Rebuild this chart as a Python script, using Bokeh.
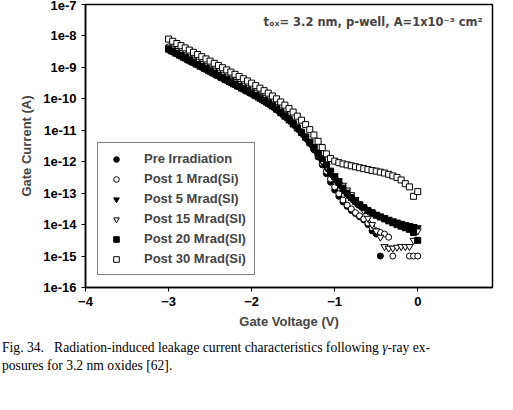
from bokeh.plotting import figure
from bokeh.models import Label, Div, Legend, LegendItem, FixedTicker
from bokeh.layouts import column
from bokeh.embed import file_html
from bokeh.resources import INLINE

nan = float("nan")

# gate voltage (V), 0.05 V steps from -3 to 0
v = [round(-3 + 0.05 * i, 2) for i in range(61)]

# log10 of gate current (A)
pre = [-8.40, -8.47, -8.54, -8.61, -8.68, -8.75, -8.82, -8.89, -8.96, -9.03,
       -9.10, -9.17, -9.24, -9.31, -9.38, -9.45, -9.52, -9.59, -9.66, -9.73,
       -9.80, -9.88, -9.96, -10.04, -10.12, -10.22, -10.32, -10.43, -10.55, -10.67,
       -10.80, -10.94, -11.09, -11.25, -11.42, -11.62, -11.85, -12.10, -12.38, -12.65,
       -12.90, -13.10, -13.28, -13.42, -13.55, -13.65, -13.75, -13.85, -14.00, -14.20,
       -14.30, -15.00, nan, nan, nan, nan, nan, nan, nan, nan, nan]
post1 = [-8.35, -8.42, -8.49, -8.56, -8.63, -8.70, -8.77, -8.84, -8.91, -8.98,
         -9.05, -9.12, -9.19, -9.26, -9.33, -9.40, -9.47, -9.54, -9.61, -9.68,
         -9.75, -9.83, -9.91, -9.99, -10.08, -10.17, -10.27, -10.38, -10.50, -10.62,
         -10.75, -10.89, -11.04, -11.20, -11.38, -11.58, -11.80, -12.05, -12.30, -12.55,
         -12.80, -13.02, -13.22, -13.38, -13.50, -13.62, -13.72, -13.82, -13.95, -14.10,
         -14.20, -14.25, -14.30, -14.40, -15.00, nan, nan, nan, -15.00, -15.00, -15.00]
post5 = [-8.45, -8.52, -8.59, -8.66, -8.73, -8.80, -8.87, -8.94, -9.01, -9.08,
         -9.15, -9.22, -9.29, -9.36, -9.43, -9.50, -9.57, -9.64, -9.71, -9.78,
         -9.85, -9.92, -10.00, -10.08, -10.16, -10.25, -10.35, -10.46, -10.57, -10.69,
         -10.82, -10.96, -11.10, -11.26, -11.42, -11.60, -11.80, -12.00, -12.20, -12.38,
         -12.55, -12.72, -12.90, -13.05, -13.18, -13.30, -13.40, -13.48, -13.56, -13.62,
         -13.68, -13.73, -13.78, -13.83, -13.88, -13.92, -13.96, -14.00, -14.03, -14.06, -14.10]
post15 = [-8.38, -8.45, -8.52, -8.59, -8.66, -8.73, -8.80, -8.87, -8.94, -9.01,
          -9.08, -9.15, -9.22, -9.29, -9.36, -9.43, -9.50, -9.57, -9.64, -9.71,
          -9.78, -9.86, -9.94, -10.02, -10.10, -10.19, -10.29, -10.40, -10.51, -10.63,
          -10.76, -10.90, -11.05, -11.20, -11.36, -11.55, -11.75, -11.98, -12.15, -12.30,
          -12.45, -12.60, -12.75, -12.90, -13.05, -13.20, -13.35, -13.55, -13.80, -14.00,
          -14.20, -14.40, -14.70, -14.75, -14.75, -14.72, -14.70, -14.70, -14.70, -14.50, -14.20]
post20 = [-8.42, -8.49, -8.56, -8.63, -8.70, -8.77, -8.84, -8.91, -8.98, -9.05,
          -9.12, -9.19, -9.26, -9.33, -9.40, -9.47, -9.54, -9.61, -9.68, -9.75,
          -9.82, -9.90, -9.98, -10.06, -10.14, -10.23, -10.33, -10.44, -10.55, -10.67,
          -10.80, -10.93, -11.07, -11.22, -11.38, -11.55, -11.72, -11.90, -12.10, -12.30,
          -12.48, -12.66, -12.84, -13.00, -13.14, -13.26, -13.37, -13.46, -13.55, -13.62,
          -13.70, -13.76, -13.82, -13.88, -13.94, -14.00, -14.05, -14.10, -14.15, -14.25, -14.50]
post30 = [-8.10, -8.17, -8.24, -8.31, -8.38, -8.45, -8.52, -8.59, -8.66, -8.73,
          -8.80, -8.87, -8.94, -9.01, -9.08, -9.15, -9.22, -9.29, -9.36, -9.43,
          -9.50, -9.58, -9.66, -9.74, -9.82, -9.91, -10.00, -10.10, -10.20, -10.31,
          -10.42, -10.55, -10.68, -10.82, -10.98, -11.15, -11.35, -11.55, -11.75, -11.90,
          -11.98, -12.03, -12.07, -12.10, -12.13, -12.16, -12.19, -12.22, -12.25, -12.28,
          -12.30, -12.33, -12.36, -12.40, -12.45, -12.50, -12.58, -12.70, -12.80, -13.10, -12.95]

y_ticks = list(range(-16, -6))
y_labels = {t: "1e%d" % t for t in y_ticks}

p = figure(width=505, height=335, x_range=(-4, 0.9), y_range=(-16, -7),
           output_backend="svg", toolbar_location=None,
           min_border_left=85, min_border_right=13, min_border_top=4, min_border_bottom=48,
           x_axis_label="Gate Voltage (V)", y_axis_label="Gate Current (A)")
p.grid.visible = False
p.outline_line_color = "black"
p.outline_line_width = 1.5
p.yaxis.ticker = FixedTicker(ticks=y_ticks)
p.yaxis.major_label_overrides = y_labels
p.xaxis.ticker = FixedTicker(ticks=[-4, -3, -2, -1, 0])
p.xaxis.minor_tick_line_color = None
p.yaxis.minor_tick_line_color = None
for ax in (p.xaxis, p.yaxis):
    ax.major_label_text_font = "Liberation Sans"
    ax.major_label_text_font_style = "bold"
    ax.major_label_text_font_size = "13px"
    ax.major_label_text_color = "black"
    ax.axis_label_text_font = "Liberation Sans"
    ax.axis_label_text_font_style = "bold"
    ax.axis_label_text_font_size = "13px"
    ax.axis_line_color = "black"
    ax.axis_line_width = 1.5
    ax.major_tick_line_color = "black"
    ax.major_tick_in = 0
    ax.major_tick_out = 4
p.yaxis.axis_label_standoff = 6

sz = 6
r1 = p.scatter(v, pre, marker="circle", size=sz, color="black")
r2 = p.scatter(v, post1, marker="circle", size=sz, line_color="black", fill_color="white")
r3 = p.scatter(v, post5, marker="inverted_triangle", size=sz + 1, color="black")
r4 = p.scatter(v, post15, marker="inverted_triangle", size=sz + 1, line_color="black", fill_color="white")
r5 = p.scatter(v, post20, marker="square", size=sz, color="black")
r6 = p.scatter(v, post30, marker="square", size=sz, line_color="black", fill_color="white")

legend = Legend(items=[
    LegendItem(label="Pre Irradiation", renderers=[r1]),
    LegendItem(label="Post 1 Mrad(Si)", renderers=[r2]),
    LegendItem(label="Post 5 Mrad(SI)", renderers=[r3]),
    LegendItem(label="Post 15 Mrad(SI)", renderers=[r4]),
    LegendItem(label="Post 20 Mrad(SI)", renderers=[r5]),
    LegendItem(label="Post 30 Mrad(Si)", renderers=[r6]),
], location=(12, 12))
legend.label_text_font = "Liberation Sans"
legend.label_text_font_style = "bold"
legend.label_text_font_size = "13px"
legend.border_line_color = "black"
legend.border_line_width = 1.5
legend.label_height = 14
legend.glyph_height = 14
legend.spacing = 5
legend.padding = 8
legend.label_standoff = 18
p.add_layout(legend, "center")

p.add_layout(Label(x=0.78, y=-7.55, text="t\u2092\u2093= 3.2 nm, p-well, A=1x10\u207b\u00b3 cm\u00b2",
                   text_align="right", text_baseline="middle", text_font="DejaVu Sans",
                   text_font_style="bold", text_font_size="11.5px"))

cap = Div(text="Fig. 34.&nbsp;&nbsp; Radiation-induced leakage current characteristics following "
               "<i>\u03b3</i>-ray ex-<br>posures for 3.2 nm oxides [62].",
          width=505, styles={"font-family": "Liberation Serif", "font-size": "13.6px",
                             "line-height": "1.3", "margin-left": "2px", "margin-top": "4px"})

out = column(p, cap)
open("out.html", "w").write(file_html(out, INLINE))
